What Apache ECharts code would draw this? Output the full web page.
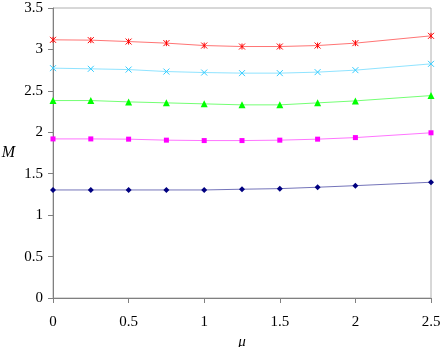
<!DOCTYPE html>
<html>
<head>
<meta charset="utf-8">
<script src="https://cdn.jsdelivr.net/npm/echarts@6/dist/echarts.min.js"></script>
<style>
html,body{margin:0;padding:0;background:#fff;}
#chart{width:441px;height:347px;}
</style>
</head>
<body>
<div id="chart"></div>
<script>
const muValues = [0, 0.25, 0.5, 0.75, 1, 1.25, 1.5, 1.75, 2, 2.5];
const seriesDiamond = [1.304, 1.304, 1.304, 1.304, 1.304, 1.313, 1.320, 1.337, 1.356, 1.397];
const seriesSquare = [1.920, 1.920, 1.917, 1.905, 1.900, 1.900, 1.905, 1.917, 1.936, 1.994];
const seriesTriangle = [2.383, 2.383, 2.367, 2.355, 2.343, 2.331, 2.331, 2.355, 2.379, 2.443];
const seriesCross = [2.774, 2.766, 2.757, 2.733, 2.721, 2.714, 2.714, 2.726, 2.750, 2.826];
const seriesStar = [3.116, 3.112, 3.095, 3.076, 3.047, 3.035, 3.035, 3.047, 3.076, 3.164];
const xTicks = [0, 0.5, 1, 1.5, 2, 2.5];
const yTicks = [0, 0.5, 1, 1.5, 2, 2.5, 3, 3.5];

const font = '"Liberation Serif", "Times New Roman", serif';
function pairs(vals){ return muValues.map((m,i)=>[m, vals[i]]); }
function mk(name, vals, color, symbol, size, stroke){
  return {
    name, type:'line', data: pairs(vals),
    symbol, symbolSize: size,
    lineStyle:{color, width:1, opacity:0.55},
    itemStyle: stroke ? {color:'rgba(0,0,0,0)', borderColor:color, borderWidth:1} : {color, borderWidth:0},
    emphasis:{disabled:true},
    animation:false
  };
}
const chart = echarts.init(document.getElementById('chart'));
chart.setOption({
  animation:false,
  grid:{left:53, right:10, top:8, bottom:49, outerBoundsMode:'none', containLabel:false, show:true, borderColor:'#b0b0b0', borderWidth:1, backgroundColor:'transparent'},
  xAxis:{
    type:'value', min:xTicks[0], max:xTicks[xTicks.length-1], interval:0.5,
    name:'\u03bc', nameLocation:'middle', nameGap:31,
    nameTextStyle:{fontFamily:font, fontStyle:'italic', fontSize:15, color:'#000'},
    axisLine:{show:true, lineStyle:{color:'#808080', width:1}},
    axisTick:{show:true, length:5, lineStyle:{color:'#808080'}},
    axisLabel:{fontFamily:font, fontSize:15, color:'#000', margin:17},
    splitLine:{show:false}
  },
  yAxis:{
    type:'value', min:yTicks[0], max:yTicks[yTicks.length-1], interval:0.5,
    name:'M', nameLocation:'middle', nameGap:38, nameRotate:0,
    nameTextStyle:{fontFamily:font, fontStyle:'italic', fontSize:16, color:'#000'},
    axisLine:{show:true, lineStyle:{color:'#808080', width:1}},
    axisTick:{show:true, length:5, lineStyle:{color:'#808080'}},
    axisLabel:{fontFamily:font, fontSize:15, color:'#000', margin:10},
    splitLine:{show:false}
  },
  series:[
    mk('s1', seriesDiamond, '#000080', 'diamond', 6, false),
    mk('s2', seriesSquare, '#ff00ff', 'rect', 5, false),
    mk('s3', seriesTriangle, '#00ff00', 'triangle', 7, false),
    mk('s4', seriesCross, '#33ccff', 'path://M0,0L10,10M10,0L0,10', 6, true),
    mk('s5', seriesStar, '#ff0000', 'path://M0,0L10,10M10,0L0,10M5,0L5,10', 6, true)
  ]
});
</script>
</body>
</html>
